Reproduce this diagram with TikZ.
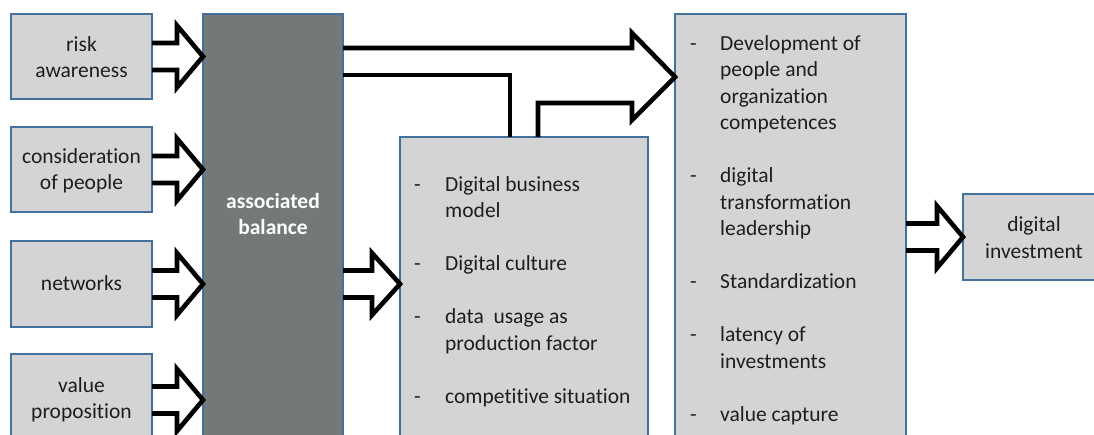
\documentclass[tikz,border=0pt]{standalone}
\usepackage{fontspec}
\setmainfont{Carlito}[Ligatures={NoCommon}]
\usetikzlibrary{calc}
\definecolor{boxfill}{RGB}{212,212,212}
\definecolor{boxline}{RGB}{65,113,156}
\definecolor{darkfill}{RGB}{115,120,120}
\definecolor{txt}{RGB}{30,30,30}
\newcommand\blockarrow[3]{%
  \draw[blk] ($(#1)+(0,-13.5)$) -- ++(#3,0) -- ++(0,-17.5) -- (#2)
    -- ($(#1)+(#3,31)$) -- ++(0,-17.5) -- ($(#1)+(0,13.5)$);}
\begin{document}
\begin{tikzpicture}[x=1pt,y=-1pt,
  box/.style={draw=boxline, line width=1.5pt, fill=boxfill, rectangle,
    inner sep=0pt, outer sep=0pt, anchor=north west},
  darkbox/.style={box, fill=darkfill},
  blk/.style={draw=black, line width=4.6pt, line join=miter, miter limit=10},
  lbl/.style={text=txt, font=\fontsize{21.5}{26.5}\selectfont, inner sep=0pt, anchor=base},
  lst/.style={lbl, anchor=base west},
  wlbl/.style={lbl, text=white, font=\fontsize{21.5}{26.5}\selectfont\bfseries}]
\useasboundingbox (0,0) rectangle (1094,434);
\clip (0,0) rectangle (1094,434);
% boxes
\node[box, minimum width=141pt, minimum height=85pt] (risk) at (11,14) {};
\node[box, minimum width=141pt, minimum height=85pt] (cons) at (11,127) {};
\node[box, minimum width=141pt, minimum height=86pt] (net) at (11,241) {};
\node[box, minimum width=141pt, minimum height=92pt] (val) at (11,354) {};
\node[darkbox, minimum width=140pt, minimum height=440pt] (bal) at (203,14) {};
\node[box, minimum width=248pt, minimum height=320pt] (mid) at (400,137) {};
\node[box, minimum width=231pt, minimum height=440pt] (right) at (675,14) {};
\node[box, minimum width=142pt, minimum height=86pt] (inv) at (963,194) {};
% labels
\node[lbl] (riskT) at (81.5,51) {\begin{tabular}[t]{@{}c@{}}risk\\awareness\end{tabular}};
\node[lbl] (consT) at (81.5,163) {\begin{tabular}[t]{@{}c@{}}consideration\\of people\end{tabular}};
\node[lbl] (netT) at (81.5,290) {networks};
\node[lbl] (valT) at (81.5,392) {\begin{tabular}[t]{@{}c@{}}value\\proposition\end{tabular}};
\node[wlbl] (balT) at (273,208) {\begin{tabular}[t]{@{}c@{}}associated\\balance\end{tabular}};
\node[lbl] (invT) at (1034,231.5) {\begin{tabular}[t]{@{}c@{}}digital\\investment\end{tabular}};
\node[lst] (midT) at (414,191) {\begin{tabular}[t]{@{}p{31pt}@{}l@{}}
- & Digital business\\ & model\\[26.5pt]
- & Digital culture\\[26.5pt]
- & data~ usage as\\ & production factor\\[26.5pt]
- & competitive situation
\end{tabular}};
\node[lst] (rightT) at (690,50) {\begin{tabular}[t]{@{}p{30pt}@{}l@{}}
- & Development of\\ & people and\\ & organization\\ & competences\\[26.5pt]
- & digital\\ & transformation\\ & leadership\\[26.5pt]
- & Standardization\\[26.5pt]
- & latency of\\ & investments\\[26.5pt]
- & value capture
\end{tabular}};
% block arrows
\blockarrow{risk.east}{bal.west |- risk.east}{25}
\blockarrow{cons.east}{bal.west |- cons.east}{25}
\blockarrow{net.east}{bal.west |- net.east}{25}
\blockarrow{val.east}{bal.west |- val.east}{25}
\blockarrow{bal.east |- net.east}{mid.west |- net.east}{29}
\blockarrow{right.east |- inv.west}{inv.west}{31}
% merged arrow to the right box
\draw[blk] (bal.east |- 0,48) -- (632,48) -- (632,33) -- (right.west |- 0,77)
  -- (632,120) -- (632,103) -- (538,103) -- (538,0 |- mid.north);
\draw[blk] (bal.east |- 0,75) -- (510,75) -- (510,0 |- mid.north);
\end{tikzpicture}
\end{document}
